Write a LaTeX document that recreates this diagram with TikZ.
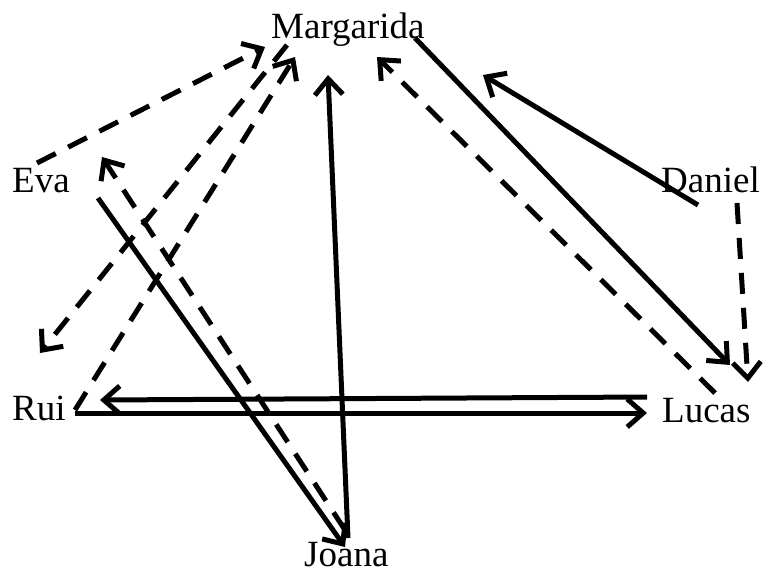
\documentclass[tikz,border=0pt]{standalone}
\usepackage{fontspec}
\setmainfont{Liberation Serif}
\usetikzlibrary{arrows.meta,calc}
\begin{document}
\begin{tikzpicture}[x=1pt,y=-1pt,
  every node/.style={inner sep=0pt,anchor=base west,font=\fontsize{37}{42}\selectfont},
  arr/.style={line width=5pt,-{Straight Barb[length=16pt,width=28pt,line width=5pt]}},
  dsh/.style={arr,dash pattern=on 21pt off 14pt}]
\useasboundingbox (0,0) rectangle (765,574);
\node (marg) at (271,38) {Margarida};
\node (eva) at (12,192) {Eva};
\node (dan) at (661,192) {Daniel};
\node (rui) at (12,420) {Rui};
\node (luc) at (662,422) {Lucas};
\node (joa) at (304,566) {Joana};
\coordinate (free) at (40,353);
\draw[dsh] ($(eva.base west)+(25,-29)$) -- ($(marg.base west)+(-6,9)$);
\draw[dsh] ($(marg.base west)+(16,7)$) -- (free);
\draw[dsh] ($(rui.base west)+(63,-10)$) -- ($(marg.base west)+(24,19)$);
\draw[arr] ($(eva.base west)+(86,6)$) -- ($(joa.base west)+(41,-19)$);
\draw[dsh] ($(joa.base west)+(41,-36)$) -- ($(eva.base west)+(90,-35)$);
\draw[arr] ($(joa.base west)+(44,-28)$) -- ($(marg.base west)+(57,37)$);
\draw[arr] ($(marg.base west)+(144,0)$) -- ($(luc.base west)+(68,-57)$);
\draw[dsh] ($(luc.base west)+(53,-29)$) -- ($(marg.base west)+(106,19)$);
\draw[arr] ($(dan.base west)+(37,13)$) -- ($(marg.base west)+(212,37)$);
\draw[dsh] ($(dan.base west)+(76,11)$) -- ($(luc.base west)+(86,-40)$);
\draw[arr] ($(luc.base west)+(-15,-25)$) -- ($(rui.base west)+(88,-20)$);
\draw[arr] ($(rui.base west)+(63,-7)$) -- ($(luc.base west)+(-15,-9)$);
\end{tikzpicture}
\end{document}
